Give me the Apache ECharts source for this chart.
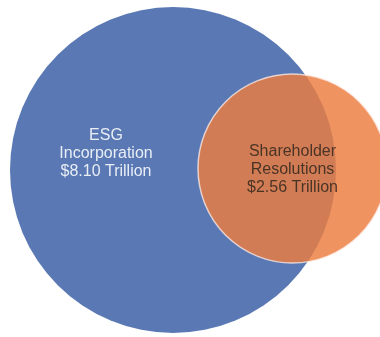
<!DOCTYPE html>
<html>
<head>
<meta charset="utf-8">
<style>
  html, body { margin: 0; padding: 0; background: #ffffff; }
  #chart { width: 380px; height: 337px; }
</style>
<script src="https://cdn.jsdelivr.net/npm/echarts@6/dist/echarts.min.js"></script>
</head>
<body>
<div id="chart"></div>
<script>
// Assets by ESG strategy (US$ trillions)
const categories = ['ESG\nIncorporation', 'Shareholder\nResolutions'];
const values = [8.10, 2.56];

// Circle layout in plot units (x 0..380, y 0..337 downwards) and diameters in px
const centers = [[173, 170], [292.5, 168.5]];
const diameters = [326, 189];

const fills = ['#5a79b4', 'rgba(236,124,62,0.82)'];
const borders = ['rgba(0,0,0,0)', 'rgba(255,238,232,0.75)'];
const labelColors = ['#e9edf5', '#4a3426'];
const labelOffsets = [[-67, -16], [0, 1]];

const data = categories.map((name, i) => ({
  name: name,
  value: [centers[i][0], centers[i][1], values[i]],
  symbolSize: diameters[i],
  itemStyle: {
    color: fills[i],
    opacity: 1,
    borderColor: borders[i],
    borderWidth: i === 1 ? 1.5 : 0
  },
  label: {
    color: labelColors[i],
    offset: labelOffsets[i]
  }
}));

const chart = echarts.init(document.getElementById('chart'), null, { renderer: 'canvas' });
chart.setOption({
  animation: false,
  backgroundColor: '#ffffff',
  grid: { left: 0, right: 0, top: 0, bottom: 0 },
  xAxis: { type: 'value', min: 0, max: 380, show: false },
  yAxis: { type: 'value', min: 0, max: 337, inverse: true, show: false },
  series: [{
    type: 'scatter',
    symbol: 'circle',
    data: data,
    itemStyle: { opacity: 1 },
    label: {
      show: true,
      position: 'inside',
      fontFamily: '"Liberation Sans", Arial, sans-serif',
      fontSize: 16,
      lineHeight: 18,
      align: 'center',
      formatter: p => p.name + '\n$' + p.value[2].toFixed(2) + ' Trillion'
    },
    emphasis: { disabled: true }
  }]
});
</script>
</body>
</html>
